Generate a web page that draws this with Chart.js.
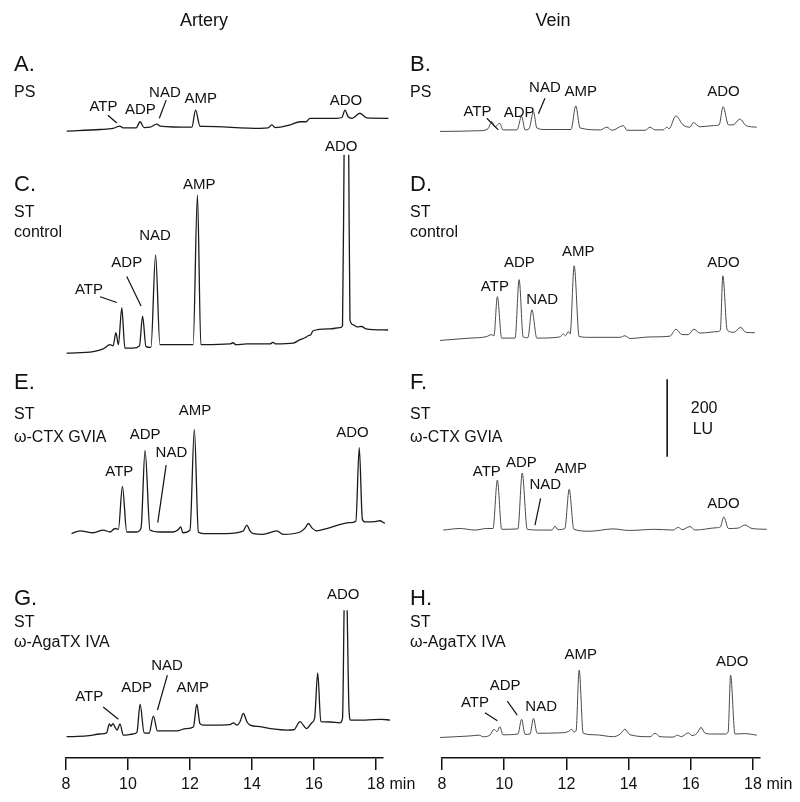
<!DOCTYPE html>
<html><head><meta charset="utf-8">
<script src="https://cdn.jsdelivr.net/npm/chart.js@4.4.1/dist/chart.umd.min.js"></script>
<style>
html,body{margin:0;padding:0;background:#fff;}
#wrap{position:relative;width:800px;height:802px;overflow:hidden;font-family:"Liberation Sans",Arial,sans-serif;color:#111;}
canvas{position:absolute;top:0;}
.t{position:absolute;white-space:nowrap;line-height:1;}
</style></head><body>
<div id="wrap">
<canvas id="cL" width="430" height="802" style="left:0px"></canvas>
<canvas id="cR" width="400" height="802" style="left:400px"></canvas>
</div>
<script>
// ---------------- DATA (time in min, fluorescence in LU above panel baseline) ----------------
const xTicks = [8, 10, 12, 14, 16, 18];

const arteryPS = [[8.02,0],[9.10,4],[9.52,7],[9.74,13],[9.84,8],[10.26,8],[10.39,24],[10.52,9],[10.71,10],[10.93,18],[11.03,13],[12.06,10],[12.18,54],[12.32,13],[12.48,12],[14.26,7],[14.52,8],[14.64,16],[14.74,9],[15.23,16],[15.55,24],[15.74,24],[15.87,33],[16.73,33],[16.90,35],[17.00,54],[17.10,37],[17.23,33],[17.48,46],[17.70,34],[18.40,33]];
const arteryControl = [[8.02,-1],[8.88,3],[9.20,10],[9.42,21],[9.52,18],[9.61,52],[9.69,21],[9.80,116],[9.90,12],[10.16,12],[10.37,18],[10.47,95],[10.58,16],[10.74,14],[10.89,253],[11.03,21],[12.10,21],[12.24,408],[12.35,21],[12.43,21],[13.29,23],[13.39,26],[13.48,21],[13.83,23],[14.58,23],[14.68,27],[14.77,23],[15.33,25],[15.55,34],[15.71,39],[15.81,44],[15.90,47],[15.97,57],[16.52,62],[16.84,65],[16.92,70],[16.97,512],[17.045,null],[17.12,512],[17.16,85],[17.27,72],[17.39,67],[17.54,68],[17.68,62],[18.39,59]];
const arteryCTX = [[8.18,-1],[8.45,6],[8.88,1],[9.20,8],[9.42,3],[9.58,12],[9.69,10],[9.82,121],[9.96,3],[10.28,3],[10.42,13],[10.55,214],[10.71,8],[11.03,3],[11.46,3],[11.61,8],[11.70,16],[11.77,1],[12.00,8],[12.14,268],[12.27,3],[12.43,-1],[13.18,-1],[13.71,5],[13.83,21],[13.94,5],[14.04,-1],[14.35,-3],[14.80,6],[15.00,-3],[15.55,3],[15.71,13],[15.82,25],[15.94,13],[16.09,6],[16.41,12],[17.16,27],[17.35,31],[17.46,221],[17.56,36],[17.65,29],[17.97,30],[18.13,32],[18.29,26],[18.56,27],[18.77,29]];
const arteryAga = [[8.02,1],[8.67,3],[9.10,8],[9.31,11],[9.40,34],[9.45,28],[9.51,35],[9.58,26],[9.65,18],[9.74,34],[9.85,5],[10.16,8],[10.29,13],[10.39,85],[10.52,11],[10.68,10],[10.82,54],[10.95,16],[11.57,16],[11.87,22],[12.11,26],[12.22,85],[12.32,35],[12.43,31],[12.97,31],[13.29,32],[13.40,37],[13.52,31],[13.61,39],[13.72,61],[13.84,39],[13.94,31],[14.26,27],[14.68,21],[15.12,18],[15.35,19],[15.55,40],[15.68,28],[15.76,22],[15.93,37],[16.02,49],[16.12,166],[16.22,40],[16.52,39],[16.84,37],[16.92,49],[16.97,328],[17.02,null],[17.07,328],[17.13,70],[17.18,44],[17.65,44],[18.18,46],[18.45,44]];

const veinPS = [[7.94,1],[9.22,3],[9.48,8],[9.60,27],[9.70,13],[9.86,22],[9.96,5],[10.41,5],[10.56,40],[10.67,5],[10.80,8],[10.94,52],[11.05,10],[11.31,6],[12.15,6],[12.30,67],[12.44,10],[13.09,5],[13.30,12],[13.47,4],[13.83,16],[13.95,4],[14.53,4],[14.69,12],[14.85,5],[15.11,5],[15.23,12],[15.30,8],[15.52,41],[15.75,18],[15.97,12],[16.08,24],[16.29,13],[16.72,16],[16.91,18],[17.04,65],[17.21,18],[17.36,18],[17.58,33],[17.78,16],[18.12,12]];
const veinControl = [[7.94,1],[8.90,7],[9.44,11],[9.58,16],[9.67,13],[9.78,114],[9.92,7],[10.35,7],[10.48,158],[10.61,10],[10.76,8],[10.89,80],[11.05,7],[11.79,10],[11.90,18],[11.97,13],[12.06,24],[12.12,18],[12.25,194],[12.41,11],[12.76,9],[13.72,9],[13.88,13],[14.05,6],[14.69,10],[15.33,12],[15.52,30],[15.72,16],[15.92,16],[16.10,30],[16.29,20],[16.88,24],[16.95,28],[17.03,168],[17.17,28],[17.39,22],[17.60,35],[17.77,22],[18.06,21]];
const veinCTX = [[8.04,0],[8.58,4],[9.06,0],[9.44,4],[9.64,4],[9.78,129],[9.92,2],[10.44,3],[10.58,147],[10.74,2],[11.15,0],[11.54,0],[11.63,10],[11.73,1],[11.95,4],[12.09,105],[12.24,2],[12.76,-3],[13.50,3],[14.00,-1],[14.37,0],[14.80,2],[15.43,0],[15.60,7],[15.72,1],[15.97,9],[16.14,0],[16.82,6],[16.95,8],[17.06,34],[17.21,4],[17.52,5],[17.74,13],[17.97,4],[18.44,2]];
const veinAga = [[7.94,-1],[8.90,3],[9.20,5],[9.32,1],[9.54,5],[9.67,20],[9.77,14],[9.86,27],[9.96,6],[10.44,8],[10.56,46],[10.67,7],[10.83,8],[10.94,48],[11.06,10],[11.79,11],[12.05,14],[12.17,20],[12.24,13],[12.31,16],[12.41,173],[12.54,10],[12.92,6],[13.51,1],[13.73,8],[13.88,20],[14.05,6],[14.69,1],[14.85,10],[15.01,1],[15.43,0],[15.57,5],[15.69,1],[15.92,11],[16.04,4],[16.20,10],[16.33,25],[16.46,10],[16.69,8],[17.11,8],[17.20,13],[17.28,160],[17.42,8],[17.74,9],[18.12,5]];

// peak labels: [panel, text, time, LU above baseline]
const arteryPeakLabels = [
  ['A','ATP',9.21,62],['A','ADP',10.40,54],['A','NAD',11.19,99],['A','AMP',12.35,82],['A','ADO',17.03,78],
  ['C','ATP',8.74,163],['C','ADP',9.96,232],['C','NAD',10.87,302],['C','AMP',12.30,434],['C','ADO',16.88,533],
  ['E','ATP',9.72,158],['E','ADP',10.55,253],['E','NAD',11.40,207],['E','AMP',12.16,316],['E','ADO',17.24,258],
  ['G','ATP',8.75,104],['G','ADP',10.28,126],['G','NAD',11.26,183],['G','AMP',12.09,126],['G','ADO',16.94,367]
];
const veinPeakLabels = [
  ['B','ATP',9.14,52],['B','ADP',10.48,49],['B','NAD',11.31,113],['B','AMP',12.46,104],['B','ADO',17.05,104],
  ['D','ATP',9.70,140],['D','ADP',10.49,201],['D','NAD',11.22,106],['D','AMP',12.38,229],['D','ADO',17.05,201],
  ['F','ATP',9.44,151],['F','ADP',10.55,174],['F','NAD',11.32,116],['F','AMP',12.14,157],['F','ADO',17.05,67],
  ['H','ATP',9.06,89],['H','ADP',10.03,132],['H','NAD',11.19,78],['H','AMP',12.46,212],['H','ADO',17.33,195]
];
// leader lines: [panel, t1, v1, t2, v2]
const arteryLeaders = [
  ['A',9.35,41,9.64,21],['A',11.23,80,11.01,33],
  ['C',9.10,145,9.64,130],['C',9.96,197,10.42,121],
  ['E',11.23,176,10.96,27],
  ['G',9.20,78,9.69,46],['G',11.27,160,10.95,70]
];
const veinLeaders = [
  ['B',9.44,35,9.81,5],['B',11.31,87,11.10,47],
  ['F',11.17,82,10.99,13],
  ['H',9.38,63,9.78,42],['H',10.10,93,10.42,57]
];
// scale bar (LU)
const scaleBarLU = 200;
const scaleBarTime = 15.24;

// ---------------- LAYOUT ----------------
const LU_PER_PX = 200 / 77.4;
const Y_MAX = 758 * LU_PER_PX;
const panelBase = {A:1620, B:1618, C:1047, D:1078, E:581, F:589, G:54, H:54};
const scaleBarBottom = 778.6;
const FONT = '"Liberation Sans", Arial, sans-serif';

function ds(points, off, color, w) {
  return {
    data: points.map(p => ({x: p[0], y: p[1] === null ? null : p[1] + off})),
    borderColor: color, borderWidth: w, pointRadius: 0,
    cubicInterpolationMode: 'monotone',
    clip: false, spanGaps: false, fill: false
  };
}

function labelPlugin(labels, leaders, extraTexts) {
  return {
    id: 'peakLabels',
    afterDatasetsDraw(chart) {
      const {ctx, scales: {x, y}} = chart;
      ctx.save();
      ctx.fillStyle = '#111';
      ctx.font = '15px ' + FONT;
      ctx.textAlign = 'center';
      ctx.textBaseline = 'middle';
      for (const L of labels) {
        ctx.fillText(L[1], x.getPixelForValue(L[2]), y.getPixelForValue(L[3] + panelBase[L[0]]));
      }
      ctx.strokeStyle = '#111';
      ctx.lineWidth = 1.2;
      for (const s of leaders) {
        const b = panelBase[s[0]];
        ctx.beginPath();
        ctx.moveTo(x.getPixelForValue(s[1]), y.getPixelForValue(s[2] + b));
        ctx.lineTo(x.getPixelForValue(s[3]), y.getPixelForValue(s[4] + b));
        ctx.stroke();
      }
      ctx.font = '16px ' + FONT;
      for (const e of extraTexts) {
        ctx.fillText(e[0], x.getPixelForValue(e[1]), y.getPixelForValue(e[2]));
      }
      // unit after last tick
      ctx.textAlign = 'left';
      ctx.fillText('min', x.getPixelForValue(18) + 13.5, x.top + 12 + 5 + 9.6);
      ctx.restore();
    }
  };
}

function makeChart(id, datasets, padL, padR, plugin) {
  return new Chart(document.getElementById(id), {
    type: 'line',
    data: {datasets},
    options: {
      responsive: false, animation: false, devicePixelRatio: 1,
      layout: {padding: {left: padL, right: padR, top: 0, bottom: 0}},
      plugins: {legend: {display: false}, tooltip: {enabled: false}},
      scales: {
        x: {
          type: 'linear', min: 8, max: 18.22,
          afterBuildTicks(s) { s.ticks = xTicks.map(v => ({value: v})); },
          afterFit(s) { s.height = 44; },
          grid: {display: true, drawOnChartArea: false, drawTicks: true, tickLength: 12, color: '#111', lineWidth: 1.5},
          border: {display: true, color: '#111', width: 1.5},
          ticks: {color: '#111', font: {family: FONT, size: 16}, padding: 5, maxRotation: 0, autoSkip: false}
        },
        y: {display: false, min: 0, max: Y_MAX}
      }
    },
    plugins: [plugin]
  });
}

const ART = '#1a1a1a', VEIN = '#4a4a4a';
makeChart('cL', [
  ds(arteryPS, panelBase.A, ART, 1.3),
  ds(arteryControl, panelBase.C, ART, 1.3),
  ds(arteryCTX, panelBase.E, ART, 1.3),
  ds(arteryAga, panelBase.G, ART, 1.3)
], 66, 430 - 66 - 10.22 * 31, labelPlugin(arteryPeakLabels, arteryLeaders, []));

const scaleBar = {
  data: [{x: scaleBarTime, y: scaleBarBottom}, {x: scaleBarTime, y: scaleBarBottom + scaleBarLU}],
  borderColor: '#111', borderWidth: 1.6, pointRadius: 0, clip: false
};
makeChart('cR', [
  ds(veinPS, panelBase.B, VEIN, 1.0),
  ds(veinControl, panelBase.D, VEIN, 1.0),
  ds(veinCTX, panelBase.F, VEIN, 1.0),
  ds(veinAga, panelBase.H, VEIN, 1.0),
  scaleBar
], 42, 400 - 42 - 10.22 * 31.1, labelPlugin(veinPeakLabels, veinLeaders,
  [[String(scaleBarLU), 16.43, 903.6], ['LU', 16.39, 849]]));

// ---------------- TEXT ----------------
const headers = [['Artery', 204, 20], ['Vein', 553, 20]];
const panelTexts = [
  ['A.', 14, 64, 22], ['PS', 14, 92, 16],
  ['B.', 410, 64, 22], ['PS', 410, 92, 16],
  ['C.', 14, 184, 22], ['ST', 14, 212, 16], ['control', 14, 232, 16],
  ['D.', 410, 184, 22], ['ST', 410, 212, 16], ['control', 410, 232, 16],
  ['E.', 14, 382, 22], ['ST', 14, 414, 16], ['ω-CTX GVIA', 14, 437, 16],
  ['F.', 410, 382, 22], ['ST', 410, 414, 16], ['ω-CTX GVIA', 410, 437, 16],
  ['G.', 14, 598, 22], ['ST', 14, 622, 16], ['ω-AgaTX IVA', 14, 642, 16],
  ['H.', 410, 598, 22], ['ST', 410, 622, 16], ['ω-AgaTX IVA', 410, 642, 16]
];
const wrap = document.getElementById('wrap');
for (const h of headers) {
  const d = document.createElement('div');
  d.className = 't'; d.textContent = h[0];
  d.style.cssText = `left:${h[1]}px;top:${h[2]}px;font-size:18px;transform:translate(-50%,-50%);`;
  wrap.appendChild(d);
}
for (const p of panelTexts) {
  const d = document.createElement('div');
  d.className = 't'; d.textContent = p[0];
  d.style.cssText = `left:${p[1]}px;top:${p[2]}px;font-size:${p[3]}px;transform:translateY(-50%);`;
  wrap.appendChild(d);
}
</script>
</body></html>
